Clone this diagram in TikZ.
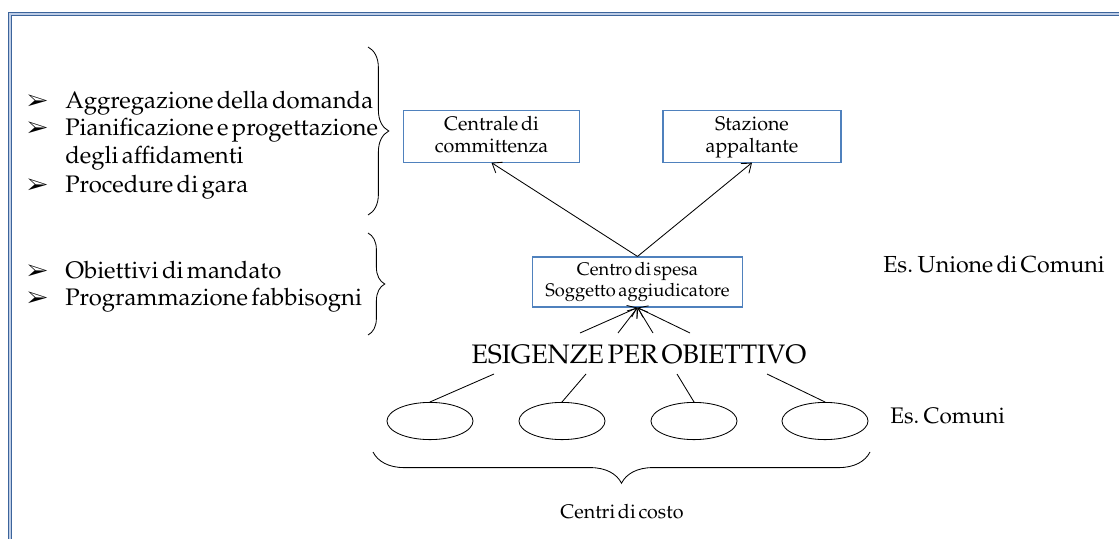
\documentclass[tikz,border=0pt]{standalone}
\usepackage[T1]{fontenc}
\usepackage{mathpazo}
\usepackage{pifont}
\usepackage{tikz}
\usetikzlibrary{arrows.meta,shapes.geometric,decorations.pathreplacing}
\definecolor{framedark}{RGB}{60,100,155}
\definecolor{framelight}{RGB}{190,205,230}
\definecolor{boxblue}{RGB}{79,129,189}
\newcommand{\setfs}[2]{\fontsize{#1}{#2}\selectfont\spaceskip=0.14em\relax}
\newcommand{\listfont}{\setfs{17}{19}}
\newcommand{\bulletmark}{{\fontsize{16}{16}\selectfont\ding{226}}}

\begin{document}
\begin{tikzpicture}[x=0.025cm,y=-0.025cm,
    box/.style={draw=boxblue,line width=0.8pt,align=center,inner sep=0pt},
    item/.style={anchor=base west,inner sep=0pt},
    link/.style={line width=0.6pt},
    arr/.style={line width=0.6pt,-{Straight Barb[length=6pt,width=9pt]}},
    cell/.style={draw,ellipse,line width=0.6pt,minimum width=2.15cm,minimum height=0.93cm},
    curly/.style={decorate,line width=0.6pt,decoration={brace,amplitude=#1}}]
    \useasboundingbox (0,0) rectangle (1119,539);
    \draw[framedark,double=framelight,double distance=1.4pt,line width=1pt]
        (10,545) -- (10,14) -- (1125,14);

    \node[item] (b1) at (27,108) {\bulletmark};
    \node[item] (b2) at (27,135) {\bulletmark};
    \node[item] (b3) at (27,192) {\bulletmark};
    \node[item] (b4) at (27,278) {\bulletmark};
    \node[item] (b5) at (27,305) {\bulletmark};
    \node[item,font=\listfont] (l1) at (65,108) {Aggregazione della domanda};
    \node[item,font=\listfont] (l2) at (65,135) {Pianificazione e progettazione};
    \node[item,font=\listfont] (l3) at (65,163) {degli affidamenti};
    \node[item,font=\listfont] (l4) at (65,192) {Procedure di gara};
    \node[item,font=\listfont] (l5) at (65,278) {Obiettivi di mandato};
    \node[item,font=\listfont] (l6) at (65,305) {Programmazione fabbisogni};

    \draw[curly=0.52cm] (368,47) -- (368,215);
    \draw[curly=0.42cm] (368,233) -- (368,335);

    \node[box,minimum width=4.42cm,minimum height=1.28cm,text depth=0.1cm,
        font=\setfs{14}{15.5}] (cdc) at (491.5,136.5)
        {Centrale di\\committenza};
    \node[box,minimum width=4.45cm,minimum height=1.28cm,text depth=0.1cm,
        font=\setfs{14}{15.5}] (sa) at (752,136.5)
        {Stazione\\appaltante};
    \node[box,minimum width=5.25cm,minimum height=1.25cm,
        font=\setfs{13}{15.5}] (cds) at (637.5,282)
        {Centro di spesa\\Soggetto aggiudicatore};

    \draw[arr] (cds.north) -- (cdc.south);
    \draw[arr] (cds.north) -- (sa.south);

    \node[anchor=base,inner sep=0pt,font=\setfs{19}{20}] (eso) at (639,363)
        {ESIGENZE PER OBIETTIVO};
    \foreach \i/\x in {1/580,2/618,3/653,4/690}
        \coordinate (u\i) at (\x,333);
    \foreach \i in {1,...,4}
        \draw[arr] (u\i) -- (cds.south);

    \node[cell] (c1) at (430,421) {};
    \node[cell] (c2) at (562,421) {};
    \node[cell] (c3) at (694,421) {};
    \node[cell] (c4) at (825,421) {};
    \foreach \i/\x in {1/494,2/586,3/677,4/767}
        \coordinate (d\i) at (\x,374);
    \foreach \i in {1,...,4}
        \draw[link] (d\i) -- (c\i.north);

    \draw[curly=0.78cm] (870,452) -- (373,452);
    \node[anchor=base,inner sep=0pt,font=\setfs{14}{15}] (cdcosto) at (622,518)
        {Centri di costo};

    \node[anchor=base west,inner sep=0pt,font=\setfs{16.5}{18}] (unione) at (883,272)
        {Es. Unione di Comuni};
    \node[anchor=base west,inner sep=0pt,font=\setfs{16}{18}] (comuni) at (890,423)
        {Es. Comuni};
\end{tikzpicture}
\end{document}
